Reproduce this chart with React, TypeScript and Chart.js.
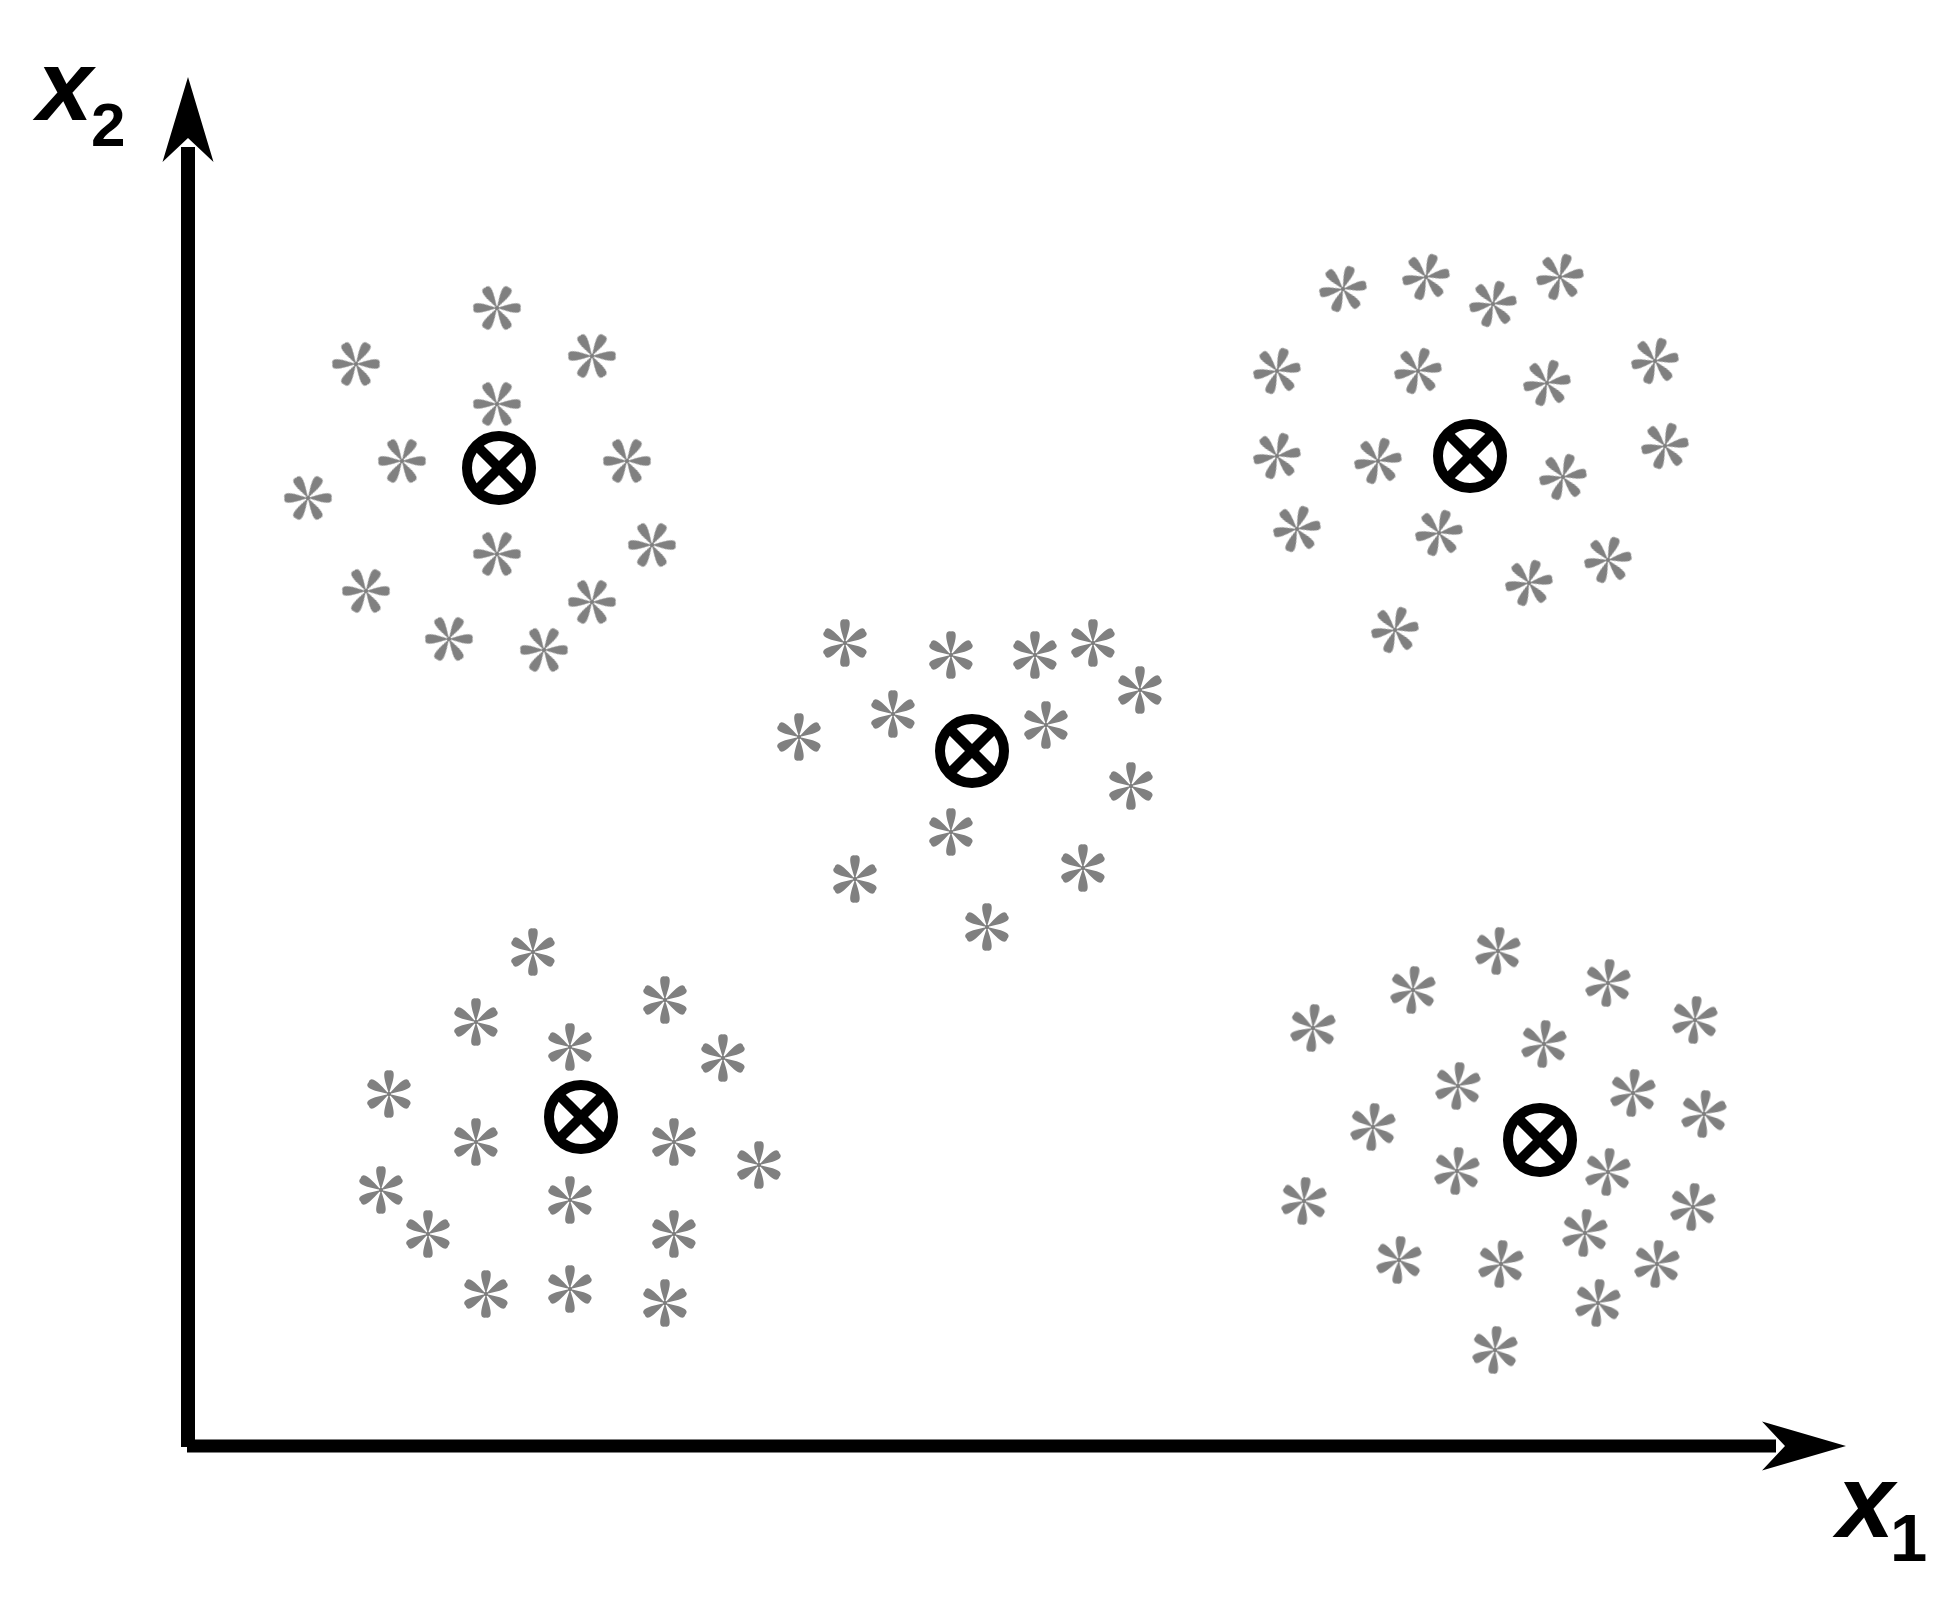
import React, { useEffect, useRef } from "react";
import { Chart, registerables } from "chart.js";

Chart.register(...registerables);

// ---- Axis extents (data units; origin at the axes corner) ----
const X_MAX = 166;
const Y_MAX = 140;
const X_ARROW_TIP = 165.8;
const Y_ARROW_TIP = 136.9;

// ---- Axis labels: [main letter, subscript] ----
const xAxisLabel = ["x", "1"];
const yAxisLabel = ["x", "2"];

// ---- Cluster samples (asterisks) ----
const cluster1X = [30.9, 40.4, 16.8, 30.9, 21.4, 43.9, 12.0, 46.4, 30.9, 17.8, 40.4, 26.1, 35.6];
const cluster1Y = [113.8, 109.0, 108.2, 104.2, 98.5, 98.5, 94.8, 90.1, 89.2, 85.5, 84.4, 80.7, 79.6];

const cluster2X = [65.7, 76.3, 84.7, 90.5, 95.2, 70.5, 61.1, 85.8, 94.3, 76.3, 66.7, 89.5, 79.9];
const cluster2Y = [80.3, 79.1, 79.1, 80.3, 75.6, 73.2, 70.9, 72.1, 66.0, 61.4, 56.7, 57.8, 51.9];

const cluster3X = [115.5, 123.8, 130.5, 137.2, 108.9, 123.0, 135.9, 146.7, 108.9, 119.0, 137.5, 147.7, 110.9, 125.1, 134.1, 142.0, 120.7];
const cluster3Y = [115.7, 116.9, 114.2, 116.9, 107.5, 107.5, 106.3, 108.5, 99.0, 98.5, 96.9, 100.0, 91.7, 91.3, 86.3, 88.6, 81.6];

const cluster4X = [34.5, 47.7, 28.8, 38.2, 53.5, 20.1, 28.8, 48.6, 57.1, 19.3, 38.2, 24.0, 48.6, 29.8, 38.2, 47.7];
const cluster4Y = [49.4, 44.6, 42.4, 39.9, 38.8, 35.2, 30.4, 30.4, 28.1, 25.6, 24.6, 21.2, 21.2, 15.2, 15.7, 14.3];

const cluster5X = [131.0, 122.5, 142.0, 112.5, 150.7, 135.6, 127.0, 144.5, 151.6, 118.5, 126.9, 142.0, 111.6, 150.5, 139.7, 121.1, 131.3, 146.9, 141.0, 130.7];
const cluster5Y = [49.5, 45.6, 46.3, 41.8, 42.6, 40.2, 36.0, 35.3, 33.2, 31.9, 27.5, 27.4, 24.5, 23.9, 21.3, 18.6, 18.2, 18.2, 14.3, 9.6];

// glyph rotation of the asterisks in each cluster (degrees)
const clusterRotation = [30, 0, 20, 0, 5];

// ---- Cluster centres (⊗ markers) ----
const centroidX = [31.1, 78.4, 128.2, 39.3, 135.2];
const centroidY = [97.8, 69.5, 99.0, 32.9, 30.6];

const clusterXs = [cluster1X, cluster2X, cluster3X, cluster4X, cluster5X];
const clusterYs = [cluster1Y, cluster2Y, cluster3Y, cluster4Y, cluster5Y];

function toPoints(xs: number[], ys: number[]) {
  return xs.map((x, i) => ({ x, y: ys[i] }));
}

function makeAsterisk(): HTMLCanvasElement {
  const size = 56;
  const c = document.createElement("canvas");
  c.width = size;
  c.height = size;
  const ctx = c.getContext("2d")!;
  const R = 23.5;
  ctx.fillStyle = "#808080";
  ctx.translate(size / 2, size / 2);
  for (let k = 0; k < 6; k++) {
    ctx.save();
    ctx.rotate((k * Math.PI) / 3);
    ctx.beginPath();
    ctx.moveTo(0, 0);
    ctx.bezierCurveTo(-2.2, -8, -9.5, -R - 2.2, 0, -R);
    ctx.bezierCurveTo(9.5, -R - 2.2, 2.2, -8, 0, 0);
    ctx.closePath();
    ctx.fill();
    ctx.restore();
  }
  ctx.beginPath();
  ctx.arc(0, 0, 2.2, 0, Math.PI * 2);
  ctx.fill();
  return c;
}

function drawInk(ctx: CanvasRenderingContext2D, text: string, font: string, inkLeft: number, baseline: number) {
  ctx.font = font;
  ctx.textAlign = "left";
  ctx.textBaseline = "alphabetic";
  const m = ctx.measureText(text);
  ctx.fillText(text, inkLeft + m.actualBoundingBoxLeft, baseline);
}

const whiteBg = {
  id: "whiteBg",
  beforeDraw(chart: any) {
    const ctx = chart.ctx;
    ctx.save();
    ctx.fillStyle = "#ffffff";
    ctx.fillRect(0, 0, chart.width, chart.height);
    ctx.restore();
  },
};

const arrowAxes = {
  id: "arrowAxes",
  beforeDatasetsDraw(chart: any) {
    const ctx: CanvasRenderingContext2D = chart.ctx;
    const sx = chart.scales.x;
    const sy = chart.scales.y;
    const x0 = sx.getPixelForValue(0);
    const y0 = sy.getPixelForValue(0);
    const xTip = sx.getPixelForValue(X_ARROW_TIP);
    const yTip = sy.getPixelForValue(Y_ARROW_TIP);
    ctx.save();
    ctx.fillStyle = "#000000";
    // vertical axis shaft
    ctx.fillRect(x0 - 7, yTip + 70, 14, y0 + 1 - (yTip + 70));
    // horizontal axis shaft
    ctx.fillRect(x0 - 1, y0 - 6.5, xTip - 70 - (x0 - 1), 13);
    // vertical arrowhead
    ctx.beginPath();
    ctx.moveTo(x0, yTip);
    ctx.lineTo(x0 + 25.5, yTip + 85);
    ctx.lineTo(x0, yTip + 61);
    ctx.lineTo(x0 - 25.5, yTip + 85);
    ctx.closePath();
    ctx.fill();
    // horizontal arrowhead
    ctx.beginPath();
    ctx.moveTo(xTip, y0);
    ctx.lineTo(xTip - 84, y0 + 24.5);
    ctx.lineTo(xTip - 61, y0);
    ctx.lineTo(xTip - 84, y0 - 24.5);
    ctx.closePath();
    ctx.fill();
    // labels
    const fam = '"Liberation Sans", Arial, sans-serif';
    drawInk(ctx, yAxisLabel[0], `italic bold 100px ${fam}`, x0 - 156, yTip + 43);
    drawInk(ctx, yAxisLabel[1], `bold 62px ${fam}`, x0 - 95, yTip + 69);
    drawInk(ctx, xAxisLabel[0], `italic bold 103px ${fam}`, xTip - 14, y0 + 91);
    drawInk(ctx, xAxisLabel[1], `bold 67px ${fam}`, xTip + 48, y0 + 115);
    ctx.restore();
  },
};

export default function App() {
  const ref = useRef<HTMLCanvasElement>(null);

  useEffect(() => {
    const canvas = ref.current;
    if (!canvas) return;
    const star = makeAsterisk();
    const datasets: any[] = clusterXs.map((xs, i) => ({
      label: `cluster ${i + 1}`,
      data: toPoints(xs, clusterYs[i]),
      pointStyle: star,
      pointRotation: clusterRotation[i],
      pointRadius: 24,
      pointHoverRadius: 24,
      showLine: false,
      clip: false,
    }));
    const centroids = toPoints(centroidX, centroidY);
    datasets.push({
      label: "centres-ring",
      data: centroids,
      pointStyle: "circle",
      pointRadius: 32,
      pointHoverRadius: 32,
      pointBorderWidth: 10,
      pointHoverBorderWidth: 10,
      pointBorderColor: "#000000",
      pointBackgroundColor: "rgba(0,0,0,0)",
      showLine: false,
      clip: false,
    });
    datasets.push({
      label: "centres-cross",
      data: centroids,
      pointStyle: "crossRot",
      pointRadius: 28,
      pointHoverRadius: 28,
      pointBorderWidth: 10,
      pointHoverBorderWidth: 10,
      pointBorderColor: "#000000",
      pointBackgroundColor: "rgba(0,0,0,0)",
      showLine: false,
      clip: false,
    });

    const chart = new Chart(canvas, {
      type: "scatter",
      data: { datasets },
      options: {
        responsive: false,
        maintainAspectRatio: false,
        animation: false,
        events: [],
        layout: { padding: { left: 188, right: 108, top: 46, bottom: 154 } },
        plugins: { legend: { display: false }, tooltip: { enabled: false } },
        scales: {
          x: { type: "linear", min: 0, max: X_MAX, display: false },
          y: { type: "linear", min: 0, max: Y_MAX, display: false },
        },
      },
      plugins: [whiteBg, arrowAxes],
    } as any);
    return () => chart.destroy();
  }, []);

  return (
    <div style={{ position: "fixed", left: 0, top: 0, width: 1956, height: 1600, background: "#fff" }}>
      <canvas ref={ref} width={1956} height={1600} style={{ display: "block", width: 1956, height: 1600 }} />
    </div>
  );
}
